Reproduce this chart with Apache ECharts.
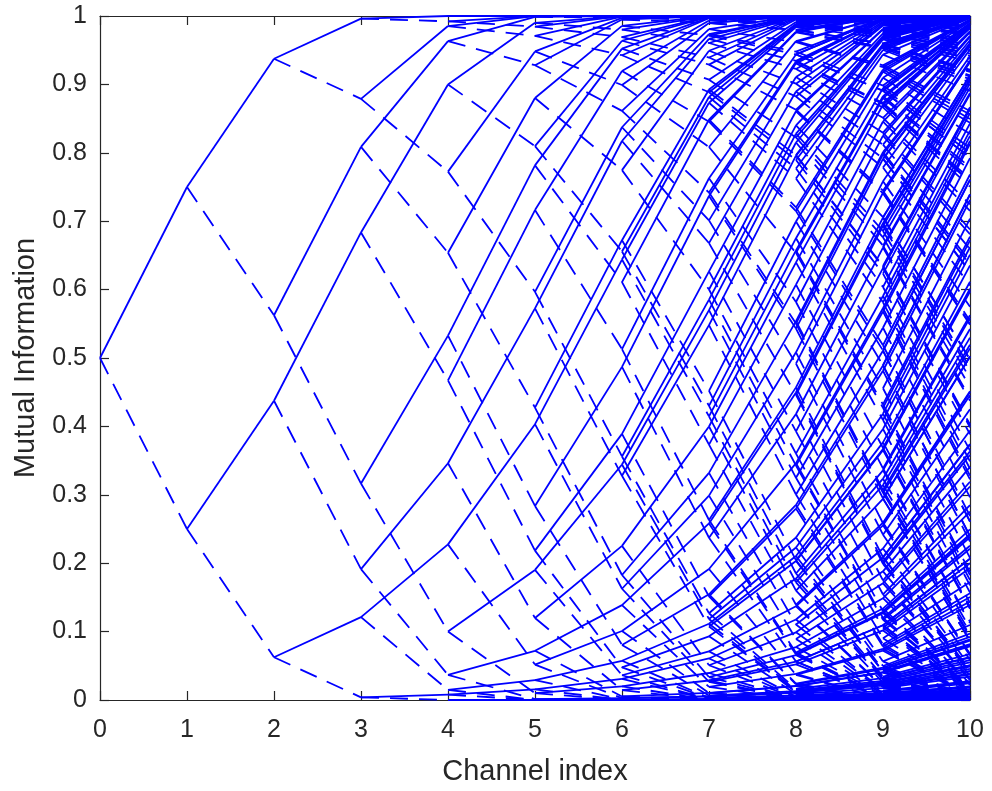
<!DOCTYPE html>
<html>
<head>
<meta charset="utf-8">
<script src="https://cdn.jsdelivr.net/npm/echarts@6/dist/echarts.min.js"></script>
<style>
html,body{margin:0;padding:0;background:#fff;}
#chart{width:992px;height:791px;}
</style>
</head>
<body>
<div id="chart"></div>
<script>
// Tick labels
const xTicks = [0, 1, 2, 3, 4, 5, 6, 7, 8, 9, 10];
const yTicks = [0, 0.1, 0.2, 0.3, 0.4, 0.5, 0.6, 0.7, 0.8, 0.9, 1];
// Starting mutual information at channel index 0 (0.5)
const startValue = [0.5];
// Number of polarization steps shown (channel index 0..10)
const levelCount = 10;
// Level 1..2 values (they follow the BEC polarization rule)
const level1 = [0.75, 0.25];
const level2 = [0.9375, 0.5625, 0.4375, 0.0625];

// The chart is the binary-erasure-channel polarization tree:
// solid branch -> 2I - I^2 (better channel), dashed branch -> I^2 (worse channel).
const levels = [startValue.slice()];
for (let k = 1; k <= levelCount; k++) {
  const prev = levels[k - 1];
  const cur = [];
  prev.forEach(v => { cur.push(2 * v - v * v); cur.push(v * v); });
  levels.push(cur);
}

const solidSegs = [];
const dashedSegs = [];
for (let k = 0; k < levelCount; k++) {
  levels[k].forEach((v, i) => {
    solidSegs.push({coords: [[k, v], [k + 1, levels[k + 1][2 * i]]]});
    dashedSegs.push({coords: [[k, v], [k + 1, levels[k + 1][2 * i + 1]]]});
  });
}

const FONT = "'Liberation Sans', Arial, Helvetica, sans-serif";
const AX = '#262626';
const chart = echarts.init(document.getElementById('chart'), null, {renderer: 'canvas'});
const common = {
  type: 'value',
  axisLine: {show: true, onZero: false, lineStyle: {color: AX, width: 1.2}},
  axisTick: {show: true, inside: true, length: 9, lineStyle: {color: AX, width: 1.2}},
  splitLine: {show: false}
};
chart.setOption({
  animation: false,
  backgroundColor: '#fff',
  grid: {left: 100, right: 22, top: 16, bottom: 89, containLabel: false},
  xAxis: [
    Object.assign({}, common, {
      position: 'bottom', min: 0, max: 10, interval: 1,
      name: 'Channel index', nameLocation: 'middle', nameGap: 57,
      nameTextStyle: {color: AX, fontSize: 29, fontFamily: FONT},
      axisLabel: {color: AX, fontSize: 25, fontFamily: FONT, margin: 18,
        formatter: v => xTicks.includes(v) ? String(v) : ''}
    }),
    Object.assign({}, common, {
      position: 'top', min: 0, max: 10, interval: 1, axisLabel: {show: false}
    })
  ],
  yAxis: [
    Object.assign({}, common, {
      position: 'left', min: 0, max: 1, interval: 0.1,
      name: 'Mutual Information', nameLocation: 'middle', nameGap: 60,
      nameTextStyle: {color: AX, fontSize: 29, fontFamily: FONT},
      axisLabel: {color: AX, fontSize: 25, fontFamily: FONT, margin: 13,
        formatter: v => {
          const t = yTicks.find(y => Math.abs(y - v) < 1e-9);
          return t === undefined ? '' : String(t);
        }}
    }),
    Object.assign({}, common, {
      position: 'right', min: 0, max: 1, interval: 0.1, axisLabel: {show: false}
    })
  ],
  series: [
    {
      type: 'lines', coordinateSystem: 'cartesian2d', polyline: false,
      xAxisIndex: 0, yAxisIndex: 0,
      lineStyle: {color: '#0000ff', width: 1.8, opacity: 1, type: 'solid', curveness: 0},
      data: solidSegs, silent: true, z: 3
    },
    {
      type: 'lines', coordinateSystem: 'cartesian2d', polyline: false,
      xAxisIndex: 0, yAxisIndex: 0,
      lineStyle: {color: '#0000ff', width: 1.8, opacity: 1, type: [18, 11], curveness: 0},
      data: dashedSegs, silent: true, z: 3
    }
  ]
});
</script>
</body>
</html>
